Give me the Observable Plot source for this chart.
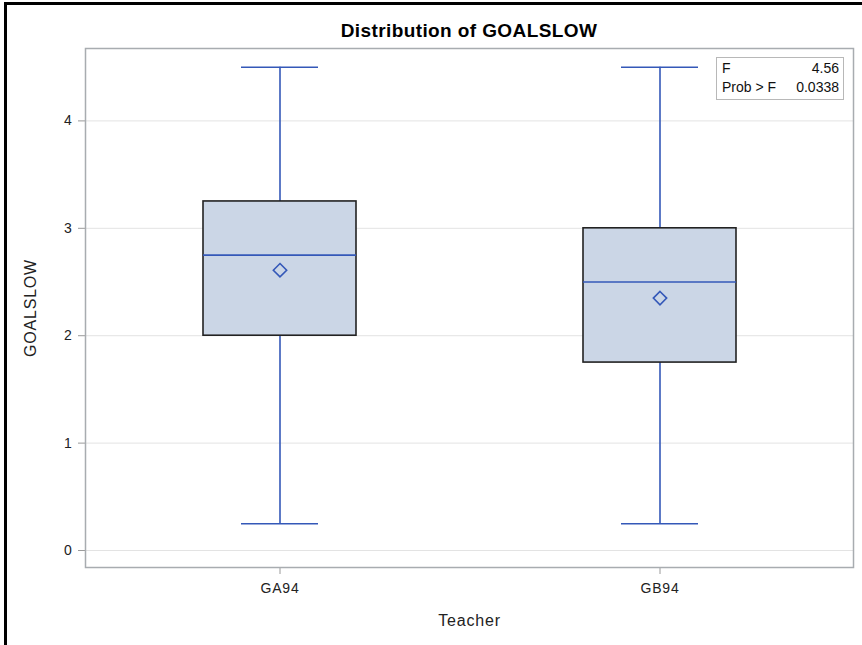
<!DOCTYPE html>
<html>
<head>
<meta charset="utf-8">
<script src="https://cdn.jsdelivr.net/npm/d3@7"></script>
<script src="https://cdn.jsdelivr.net/npm/@observablehq/plot@0.6"></script>
<style>
  html, body { margin: 0; padding: 0; background: #fff; }
  #wrap { position: relative; width: 862px; height: 645px; overflow: hidden; background: #fff;
          font-family: "Liberation Sans", Arial, sans-serif; }
  #border { position: absolute; left: 4px; top: 2px; width: 900px; height: 700px;
            border-left: 3px solid #000; border-top: 3px solid #000; pointer-events: none; z-index: 5; }
  #title { height: 44px; box-sizing: border-box; padding-top: 20px; padding-left: 85px; padding-right: 9px;
           text-align: center; font-weight: bold; font-size: 19px; line-height: 22px; letter-spacing: 0.4px; color: #000; }
  #stats { position: absolute; left: 716px; top: 57px; width: 128px; box-sizing: border-box;
           border: 1px solid #b8b8b8; background: #fff; font-size: 14px; color: #111; padding: 1px 4px 2px 5px; }
  #stats .row { display: flex; justify-content: space-between; line-height: 19px; }
  #chart svg text { letter-spacing: 0.8px; }
</style>
</head>
<body>
<div id="wrap">
  <div id="title"></div>
  <div id="chart"></div>
  <div id="stats"></div>
  <div id="border"></div>
</div>
<script>
const titleText = "Distribution of GOALSLOW";
const xLabel = "Teacher";
const yLabel = "GOALSLOW";
const teachers = ["GA94", "GB94"];
const minVals = [0.25, 0.25];
const q1Vals = [2.0, 1.75];
const medianVals = [2.75, 2.5];
const q3Vals = [3.25, 3.0];
const maxVals = [4.5, 4.5];
const meanVals = [2.61, 2.35];
const yTicks = [0, 1, 2, 3, 4];
const statLabels = ["F", "Prob > F"];
const statValues = ["4.56", "0.0338"];

const data = teachers.map((t, i) => ({
  teacher: t, min: minVals[i], q1: q1Vals[i], median: medianVals[i],
  q3: q3Vals[i], max: maxVals[i], mean: meanVals[i]
}));

const blue = "#3458b8";

document.getElementById("title").textContent = titleText;
const stats = document.getElementById("stats");
statLabels.forEach((l, i) => {
  const r = document.createElement("div");
  r.className = "row";
  const a = document.createElement("span"); a.textContent = l;
  const b = document.createElement("span"); b.textContent = statValues[i];
  r.appendChild(a); r.appendChild(b);
  stats.appendChild(r);
});

const chart = Plot.plot({
  width: 862,
  height: 601,
  marginLeft: 85,
  marginRight: 9,
  marginTop: 4,
  marginBottom: 78,
  style: { fontFamily: "'Liberation Sans', Arial, sans-serif", background: "white", color: "#222" },
  x: { type: "band", domain: teachers, paddingInner: 0.598, paddingOuter: 0.307 },
  y: { domain: [-0.158, 4.674] },
  marks: [
    Plot.gridY(yTicks, { stroke: "#e3e3e3", strokeOpacity: 1, strokeWidth: 1 }),
    Plot.ruleX(data, { x: "teacher", y1: "min", y2: "q1", stroke: blue, strokeWidth: 1.6 }),
    Plot.ruleX(data, { x: "teacher", y1: "q3", y2: "max", stroke: blue, strokeWidth: 1.6 }),
    Plot.tickY(data, { x: "teacher", y: "min", insetLeft: 38, insetRight: 38, stroke: blue, strokeWidth: 1.6 }),
    Plot.tickY(data, { x: "teacher", y: "max", insetLeft: 38, insetRight: 38, stroke: blue, strokeWidth: 1.6 }),
    Plot.barY(data, { x: "teacher", y1: "q1", y2: "q3", fill: "#cbd6e6", stroke: "#222", strokeWidth: 1.6 }),
    Plot.tickY(data, { x: "teacher", y: "median", stroke: blue, strokeWidth: 1.6 }),
    Plot.dot(data, { x: "teacher", y: "mean", symbol: "diamond2", r: 6, stroke: blue, strokeWidth: 1.6, fill: "none" }),
    Plot.axisY(yTicks, { tickSize: 7, tickPadding: 6, stroke: "#9a9a9a", fill: "#222", fontSize: 14, tickFormat: d3.format("d"), label: null }),
    Plot.axisX({ tickSize: 7, tickPadding: 9, stroke: "#9a9a9a", fill: "#222", fontSize: 14, label: null }),
    Plot.text([yLabel], { text: d => d, frameAnchor: "left", textAnchor: "middle", lineAnchor: "middle", rotate: -90, dx: -55, fontSize: 16, fill: "#222" }),
    Plot.text([xLabel], { text: d => d, frameAnchor: "bottom", textAnchor: "middle", lineAnchor: "middle", dy: 53, fontSize: 16, fill: "#222" }),
    Plot.frame({ stroke: "#a8acb0", strokeWidth: 1.5 })
  ]
});
document.getElementById("chart").appendChild(chart);
</script>
</body>
</html>
